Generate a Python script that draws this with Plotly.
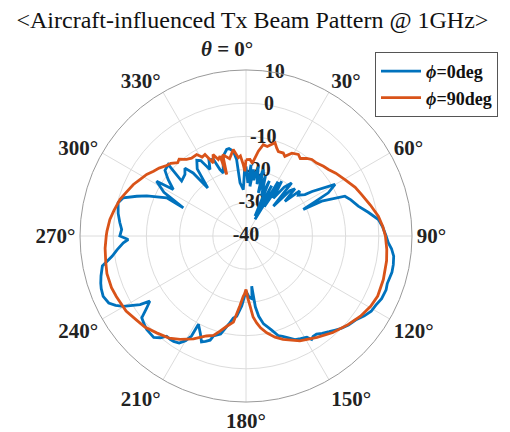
import plotly.graph_objects as go

# phi = 0 deg cut (blue)
blue_theta = [0, 2, 4, 4.6, 6.3, 8, 10, 12, 14.6, 15.9, 18, 21, 23, 24.4, 27, 28.6, 30.5, 32, 33.1, 36,
              38, 40.7, 42.5, 44, 46, 48.3, 50, 52, 54.9, 56, 59.9, 62.3, 63.7, 65.2, 65.3, 68.1, 71, 75.1,
              79, 82.9, 86, 90, 92.7, 95, 97.8, 101, 104, 108.6, 111, 114.8, 118, 121, 124, 127.5, 131,
              134, 136.4, 139, 142, 144.3, 146.3, 147.6, 149, 152, 154.7, 157, 160, 162.1, 165, 168.7,
              171, 172.5, 173.5, 174.5, 177, 180, 183.5, 186.6, 188.8, 191, 194.5, 198, 199, 201, 202.8,
              205, 208.3, 208.6, 210, 212, 214.5, 216.3, 218.4, 220, 222.3, 226.7, 229, 231.9, 234,
              235.9, 237.1, 240.2, 242, 244, 247.1, 250, 252, 254.6, 258.2, 261.4, 264, 266.8, 268.3,
              270, 273, 276, 280, 284.6, 287.3, 290, 292, 295.7, 294.2, 298, 301.5, 302.6, 306, 309,
              312.6, 310.5, 315.2, 318, 320, 321.5, 324, 327, 329, 331.6, 334, 336.9, 338.6, 340.2,
              344, 347.4, 349, 351.5, 353, 353.6, 356.7, 359, 360]
blue_r = [-19, -24, -18.5, -25, -19.8, -23, -18.8, -24, -19.3, -26.5, -21, -27, -22, -33.4, -23, -34.3,
          -21, -29.6, -20.3, -26, -21.3, -18.9, -27.8, -21, -19.5, -24.3, -18.9, -20, -18.3, -16, -9,
          -12, -17, -21, -14.9, -7.9, -6.6, -5, -2.5, 0.2, 1.2, 2.2, 2.9, 4.0, 4.9, 5.2, 5.3, 4.9, 5.2,
          5.0, 4.3, 4.0, 3.0, 1.6, 0.9, 0.0, -0.9, -1.8, -2.8, -3.6, -3.6, -3.1, -4.4, -5.0, -5.5, -6.6,
          -7.8, -8.5, -10.8, -13.0, -15.5, -18.5, -24.8, -21, -21.5, -23.4, -18.9, -15.7, -15, -13,
          -9.5, -8.4, -6.8, -6.0, -5.4, -7.5, -9.8, -5.7, -3.6, -2.0, -1.5, -1.4, -1.5, 0.0, 1.3, 1.1,
          0.6, -0.1, -3, -5, -2, 2.6, 4.5, 6.0, 6.7, 6.4, 6.0, 5.3, 4.2, 0.8, -1.0, -3.0, -4.5, -2.0,
          -2.5, -1.8, -0.9, -0.2, -1.3, -5, -7.8, -13.5, -19.3, -12, -8.4, -14, -11, -8.6, -8.2, -14.5,
          -13.9, -12.5, -15.2, -21.5, -15, -12.8, -13.5, -17.2, -14.5, -14.9, -18.5, -19.8, -15, -13.3,
          -13.2, -14.2, -16.8, -23.9, -26, -19, -19]

# phi = 90 deg cut (orange)
orange_theta = [0, 3, 5, 8.3, 10.7, 13.4, 17.3, 19.2, 21, 24.2, 26, 29, 32.7, 35, 38, 40.7, 44.1, 48,
                51.1, 55, 60.3, 66, 70.3, 76, 81.5, 86, 90, 95.5, 100, 107.6, 114.5, 119.4, 125, 131,
                138, 145, 152.8, 160.3, 164, 167.9, 171, 173, 175, 176.7, 178.5, 180, 181.5, 182.6,
                185, 188.3, 192, 195.3, 198.1, 201.6, 207, 212.5, 217, 222.7, 228, 232.6, 238, 245,
                249, 254.8, 259.2, 265, 270, 272, 276.9, 281, 286.2, 290, 294.6, 298, 301.8, 305, 308,
                311.6, 314, 317, 319, 322.2, 325, 328.8, 331, 333.3, 335.9, 338, 340.1, 342, 342.6,
                344, 348, 351.6, 354.4, 356, 357.8, 359, 360]
orange_r = [-17, -16.9, -18, -14.2, -12.0, -12.3, -10.6, -11.9, -12.8, -12.6, -13.3, -11.5, -10.8,
            -11.5, -10.3, -9.6, -9.4, -8.6, -8.1, -7.0, -5.7, -4.0, -3.0, -1.4, 0.3, 1.3, 2.0, 2.6,
            3.0, 3.4, 3.6, 3.1, 2.1, 0.7, -0.9, -2.7, -4.5, -6.9, -8.3, -10.2, -12, -13.6, -15.5,
            -18.9, -21.5, -23.9, -22.5, -21.8, -18.9, -13.8, -12.2, -10.3, -8.5, -7.6, -5.2, -3.1,
            -1.5, -0.3, 1.0, 1.6, 2.6, 3.1, 3.4, 3.4, 3.0, 2.6, 2.1, 1.9, 1.3, 0.5, -0.5, -1.6, -2.7,
            -3.8, -4.8, -6.0, -6.8, -8, -8.5, -9.8, -9.3, -10.8, -11.4, -11.3, -12.8, -12.5, -15.9,
            -13.5, -15.5, -14.7, -20.6, -14.5, -16.2, -13.7, -16.3, -15.8, -18.5, -20.5, -17]

angle_ticks = list(range(0, 360, 30))
angle_labels = [""] + [f"{a}°" for a in angle_ticks[1:]]
zero_label = "<b><i>θ</i> = 0°</b>"
radial_ticks = [-40, -30, -20, -10, 0, 10]
radial_labels = [str(v) for v in radial_ticks]
radial_label_angle = 10  # radial tick labels sit along the 10° spoke

series_names = ["<i>ϕ</i>=0deg", "<i>ϕ</i>=90deg"]
series_colors = ["#0072BD", "#D95319"]

serif = "Liberation Serif"

fig = go.Figure()
# radial tick labels (drawn first so the curves pass over them)
fig.add_trace(go.Scatterpolar(theta=[radial_label_angle] * len(radial_ticks), r=radial_ticks,
                              mode="text", text=radial_labels, textposition="middle center",
                              textfont=dict(family=serif, size=20, weight="bold", color="#222"),
                              showlegend=False, hoverinfo="skip"))
fig.add_trace(go.Scatterpolar(theta=blue_theta, r=blue_r, mode="lines", name=series_names[0],
                              line=dict(color=series_colors[0], width=2.8)))
fig.add_trace(go.Scatterpolar(theta=orange_theta, r=orange_r, mode="lines", name=series_names[1],
                              line=dict(color=series_colors[1], width=2.8)))

fig.update_layout(
    width=510, height=432,
    margin=dict(l=0, r=0, t=0, b=0),
    paper_bgcolor="white",
    font=dict(family=serif, color="#222"),
    title=dict(text="&lt;Aircraft-influenced Tx Beam Pattern @ 1GHz&gt;",
               font=dict(family=serif, size=24, color="#111"),
               x=0.495, xanchor="center", y=1 - 20 / 432, yanchor="middle"),
    polar=dict(
        domain=dict(x=[80 / 510, 412 / 510], y=[1 - 402.5 / 432, 1 - 69.5 / 432]),
        bgcolor="white",
        angularaxis=dict(rotation=90, direction="clockwise", tickmode="array",
                         tickvals=angle_ticks, ticktext=angle_labels, ticks="",
                         tickfont=dict(family=serif, size=21, weight="bold", color="#222"),
                         showline=True, linecolor="#9a9a9a", linewidth=1,
                         showgrid=True, gridcolor="#dcdcdc", gridwidth=1),
        radialaxis=dict(range=[-40, 10], tickmode="array", tickvals=radial_ticks,
                        showticklabels=False, angle=80,
                        ticks="", showline=False, showgrid=True, gridcolor="#dcdcdc"),
    ),
    annotations=[dict(text=zero_label, xref="paper", yref="paper", x=227 / 510, y=1 - 49 / 432,
                      xanchor="center", yanchor="middle", showarrow=False,
                      font=dict(family=serif, size=21, color="#222"))],
    legend=dict(x=498 / 510, y=1 - 52 / 432, xanchor="right", yanchor="top",
                bgcolor="white", bordercolor="#555", borderwidth=1,
                font=dict(family=serif, size=18, weight="bold", color="#111"),
                tracegroupgap=0, itemwidth=40),
    showlegend=True,
)

fig.write_html("out.html")
